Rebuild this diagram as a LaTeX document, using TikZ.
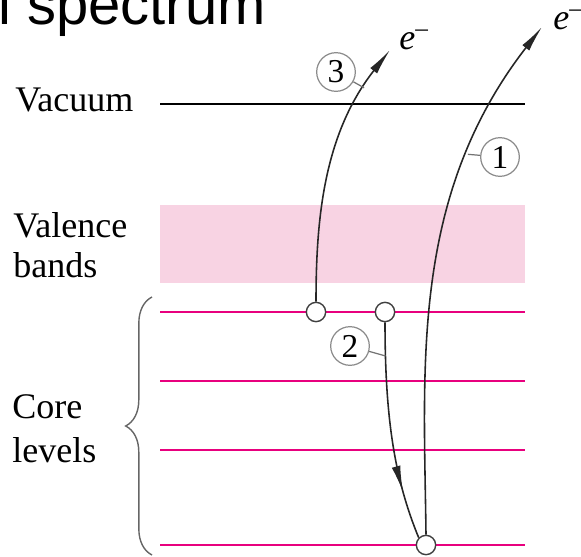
\documentclass[tikz,border=0pt]{standalone}
\usepackage{fontspec}
\setmainfont{Liberation Serif}
\newfontfamily\titlefont{Liberation Sans}
\usetikzlibrary{arrows.meta, decorations.pathreplacing, decorations.markings}
\definecolor{corepink}{HTML}{E8007E}
\definecolor{bandpink}{HTML}{F8D3E3}
\tikzset{
  level/.style={corepink, line width=1.7pt},
  hole/.style={circle, draw=black!75, fill=white, line width=0.8pt, minimum size=11pt, inner sep=0pt},
  num/.style={circle, draw=black!45, line width=0.7pt, minimum size=22pt, inner sep=0pt, font=\fontsize{19}{19}\selectfont},
  lbl/.style={anchor=base west, inner sep=0pt, font=\fontsize{20.5}{24}\selectfont},
  elec/.style={black!85, line width=0.9pt},
  tick/.style={black!55, line width=0.7pt},
  tip/.style={-{Latex[length=15pt, width=5pt]}}
}
\begin{document}
\begin{tikzpicture}[x=0.02cm, y=-0.02cm]
\useasboundingbox (0,0) rectangle (581,557);
\clip (0,0) rectangle (581,557);
\node[anchor=base west, inner sep=0pt, font=\titlefont\fontsize{33}{33}\selectfont] (title) at (-2,25) {l spectrum};

% bands and levels
\fill[bandpink] (160,205) rectangle (525,283);
\draw[black, line width=1.7pt] (160,104) -- (525,104);
\foreach \y in {312,381,450,545}
  \draw[level] (160,\y) -- (525,\y);

\node[lbl] (vacuum) at (15,112) {Vacuum};
\node[lbl] (valence) at (13,237) {Valence};
\node[lbl] (bands) at (13,277) {bands};
\node[lbl] (core) at (12,418) {Core};
\node[lbl] (levels) at (12,462) {levels};
\draw[black!60, line width=0.8pt, decorate, decoration={brace, amplitude=15pt}] (152,555) -- (152,297);

% electrons
\node[hole] (h3) at (316,312) {};
\node[hole] (h2) at (385,312) {};
\node[hole] (h1) at (426,545) {};
\coordinate (e3) at (390,50);
\coordinate (e1) at (542,27);

\draw[elec, tip] (h1.north) .. controls (424,366) and (410,197) .. coordinate[pos=0.75] (t1) (e1);
\draw[elec, postaction={decorate}, decoration={markings, mark=at position 0.78 with {\arrow{Latex[length=15pt, width=5pt]}}}]
  (h2.south) .. controls (385,420) and (395,480) .. coordinate[pos=0.12] (t2) (h1.north west);
\draw[elec, tip] (h3.north) .. controls (316,218) and (324,134) .. coordinate[pos=0.85] (t3) (e3);

\node[num] (n1) at (500,157) {1};
\node[num] (n2) at (350,346) {2};
\node[num] (n3) at (336,72) {3};
\draw[tick] (n1) -- (t1);
\draw[tick] (n2) -- (t2);
\draw[tick] (n3) -- (t3);

\node[lbl] (el3) at (399,50) {\itshape e\textsuperscript{\upshape --}};
\node[lbl] (el1) at (553,30) {\itshape e\textsuperscript{\upshape --}};
\end{tikzpicture}
\end{document}
